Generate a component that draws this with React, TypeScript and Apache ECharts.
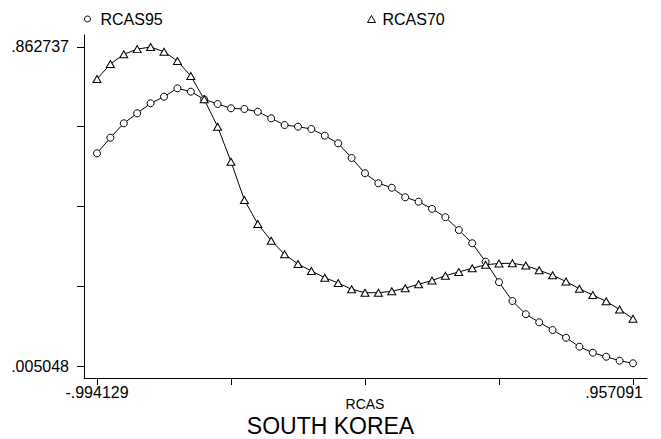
import React, { useEffect, useRef } from "react";
import * as echarts from "echarts";

const xs = [
  -0.994129, -0.945349, -0.896568, -0.847788, -0.799007, -0.750227, -0.701446,
  -0.652666, -0.603885, -0.555105, -0.506324, -0.457544, -0.408763, -0.359983,
  -0.311202, -0.262422, -0.213641, -0.164861, -0.11608, -0.0673, -0.018519,
  0.030261, 0.079042, 0.127822, 0.176603, 0.225383, 0.274164, 0.322944,
  0.371725, 0.420505, 0.469286, 0.518066, 0.566847, 0.615627, 0.664408,
  0.713188, 0.761969, 0.810749, 0.85953, 0.90831, 0.957091,
];

const rcas95 = [
  0.5769, 0.6189, 0.6576, 0.6845, 0.7114, 0.7291, 0.7517, 0.7426, 0.7221,
  0.7095, 0.6979, 0.696, 0.6888, 0.671, 0.653, 0.6485, 0.6423, 0.6243, 0.6038,
  0.5643, 0.5232, 0.4963, 0.4844, 0.4586, 0.4468, 0.4277, 0.4051, 0.3707,
  0.335, 0.2855, 0.2304, 0.1798, 0.1443, 0.1225, 0.1018, 0.0811, 0.0569,
  0.0408, 0.03, 0.0193, 0.0123,
];

const rcas70 = [
  0.7767, 0.817, 0.8431, 0.857, 0.8627, 0.8501, 0.8251, 0.7848, 0.7221,
  0.6485, 0.5543, 0.4514, 0.3868, 0.3419, 0.3054, 0.2793, 0.2605, 0.2425,
  0.2282, 0.2113, 0.2021, 0.2021, 0.2059, 0.2142, 0.2247, 0.2349, 0.2478,
  0.2578, 0.2677, 0.2774, 0.2806, 0.2812, 0.2753, 0.2624, 0.2492, 0.2322,
  0.2126, 0.1959, 0.179, 0.157, 0.1322,
];

const yTicks = [0.005048, 0.21947, 0.433893, 0.648315, 0.862737];
const yLabels = [0.005048, 0.862737];
const xTicks = [-0.994129, -0.506324, -0.018519, 0.469286, 0.957091];
const xLabelLeft = [-0.994129];
const xLabelRightText = ".957091";
const xAxisTitle = "RCAS";

const FONT = "'Liberation Sans', Arial, Helvetica, sans-serif";

const fmt = (v: number) => v.toFixed(6).replace(/^(-?)0\./, "$1.");

export default function App() {
  const ref = useRef<HTMLDivElement>(null);

  useEffect(() => {
    document.body.style.margin = "0";
    if (!ref.current) return;
    const chart = echarts.init(ref.current, null, { renderer: "svg" });
    chart.setOption({
      animation: false,
      backgroundColor: "#fff",
      grid: { left: 84, right: 14, top: 35, bottom: 61, containLabel: false },
      title: {
        text: "SOUTH KOREA",
        left: "center",
        top: 416,
        padding: 0,
        textStyle: {
          fontFamily: FONT,
          fontSize: 23,
          lineHeight: 20,
          fontWeight: "normal",
          color: "#000",
        },
      },
      legend: [
        {
          data: [{ name: "RCAS95", icon: "circle" }],
          left: 84,
          top: 11,
          padding: 0,
          itemWidth: 12,
          itemHeight: 6,
          itemStyle: { color: "#fff", borderColor: "#000", borderWidth: 1 },
          textStyle: { fontFamily: FONT, fontSize: 16, color: "#000", padding: [0, 0, 0, 2] },
        },
        {
          data: [{ name: "RCAS70", icon: "triangle" }],
          left: 367,
          top: 11,
          padding: 0,
          itemWidth: 8,
          itemHeight: 7,
          itemStyle: { color: "#fff", borderColor: "#000", borderWidth: 1 },
          textStyle: { fontFamily: FONT, fontSize: 16, color: "#000", padding: [0, 0, 0, 2] },
        },
      ],
      xAxis: {
        type: "value",
        min: -1.04145,
        max: 1.00805,
        axisLine: { show: true, onZero: false, lineStyle: { color: "#000", width: 1 } },
        axisTick: { show: true, length: 7, customValues: xTicks, lineStyle: { color: "#000" } },
        axisLabel: {
          show: true,
          customValues: xLabelLeft,
          formatter: (v: number) => fmt(v),
          margin: 6,
          fontFamily: FONT,
          fontSize: 16,
          color: "#000",
        },
        splitLine: { show: false },
      },
      yAxis: {
        type: "value",
        min: -0.027216,
        max: 0.895001,
        axisLine: { show: true, onZero: false, lineStyle: { color: "#000", width: 1 } },
        axisTick: { show: true, length: 7, customValues: yTicks, lineStyle: { color: "#000" } },
        axisLabel: {
          show: true,
          customValues: yLabels,
          formatter: (v: number) => fmt(v),
          margin: 15,
          fontFamily: FONT,
          fontSize: 16,
          color: "#000",
        },
        splitLine: { show: false },
      },
      graphic: [
        {
          type: "text",
          right: 18,
          top: 384,
          style: { text: xLabelRightText, font: `16px ${FONT}`, fill: "#000" },
        },
        {
          type: "text",
          x: 365,
          y: 404,
          style: {
            text: xAxisTitle,
            font: `14px ${FONT}`,
            lineHeight: 12,
            fill: "#000",
            align: "center",
            verticalAlign: "middle",
          },
        },
      ],
      series: [
        {
          name: "RCAS95",
          type: "line",
          data: xs.map((x, i) => [x, rcas95[i]]),
          symbol: "circle",
          symbolSize: 7,
          showAllSymbol: true,
          lineStyle: { color: "#000", width: 1 },
          itemStyle: { color: "#fff", borderColor: "#000", borderWidth: 1 },
        },
        {
          name: "RCAS70",
          type: "line",
          data: xs.map((x, i) => [x, rcas70[i]]),
          symbol: "triangle",
          symbolSize: [8, 7],
          showAllSymbol: true,
          lineStyle: { color: "#000", width: 1 },
          itemStyle: { color: "#fff", borderColor: "#000", borderWidth: 1 },
        },
      ],
    });
    return () => chart.dispose();
  }, []);

  return <div ref={ref} style={{ width: 661, height: 439 }} />;
}
